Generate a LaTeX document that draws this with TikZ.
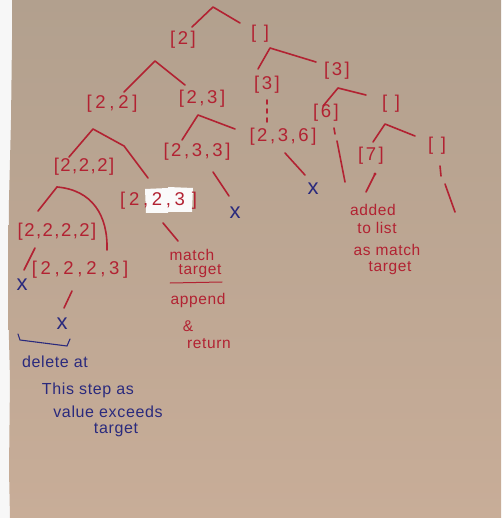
\documentclass[tikz,border=0pt]{standalone}
\usepackage{fontspec}
\newfontfamily\hand[LetterSpace=14]{Liberation Sans}
\newfontfamily\handwide[LetterSpace=20]{Liberation Sans}
\newfontfamily\handtight[LetterSpace=8]{Liberation Sans}
\newfontfamily\note[LetterSpace=4]{Liberation Sans}
\definecolor{towelTop}{RGB}{178,160,142}
\definecolor{towelBot}{RGB}{200,173,152}
\definecolor{inkred}{RGB}{178,34,50}
\definecolor{inkblue}{RGB}{42,42,125}
\begin{document}
\begin{tikzpicture}[x=1pt,y=-1pt,
  lbl/.style={text=inkred,font=\hand\fontsize{18.5}{19}\selectfont,inner sep=0pt},
  lblwide/.style={lbl,font=\handwide\fontsize{18.5}{19}\selectfont},
  lbltight/.style={lbl,font=\handtight\fontsize{18.5}{19}\selectfont},
  edge/.style={draw=inkred,line width=1.6pt,line cap=round,line join=round},
  cross/.style={text=inkblue,font=\note\fontsize{22}{22}\selectfont,inner sep=0pt},
  rednote/.style={text=inkred,font=\note\fontsize{15.5}{16}\selectfont,inner sep=0pt},
  bluenote/.style={text=inkblue,font=\note\fontsize{16}{16}\selectfont,inner sep=0pt},
  sticker/.style={fill=white!96!gray,draw=none}]
% paper towel and the white sheet underneath
\useasboundingbox (0,0) rectangle (501,518);
\fill[white!94!gray] (0,0) rectangle (501,518);
\shade[top color=towelTop,bottom color=towelBot]
  (12,0) -- (501,0) -- (501,518) -- (10,518) -- (9,470) -- (10,380) -- (8,300)
  -- (9,200) -- (11,120) -- (12,40) -- cycle;

% ---------- left branch: choosing 2 ----------
\coordinate (r0) at (213,7);
\coordinate (r0l) at (192,27);
\coordinate (r0r) at (240,23);
\draw[edge] (r0l) -- (r0) -- (r0r);

\node[lbl] (n2) at (183,40) {[2]};
\node[lbl] (e0) at (260,34) {[ ]};

\coordinate (a2) at (155,61);
\coordinate (a2l) at (124,92);
\coordinate (a2r) at (185,85);
\draw[edge] (a2l) -- (a2) -- (a2r);

\node[lblwide] (n22) at (112,104) {[2,2]};
\node[lbl] (n23) at (202,99) {[2,3]};

\coordinate (a22) at (93,129);
\coordinate (a22l) at (69,157);
\coordinate (a22m) at (124,146);
\coordinate (a22r) at (148,178);
\draw[edge] (a22l) -- (a22) -- (a22m) -- (a22r);

\coordinate (a23) at (198,115);
\coordinate (a23l) at (182,140);
\coordinate (a23r) at (235,129);
\draw[edge] (a23l) -- (a23) -- (a23r);

\node[lbltight] (n222) at (84,167) {[2,2,2]};
\node[lbl] (n233) at (197,152) {[2,3,3]};

% the found combination, with its two stickers
\fill[sticker] (145,189) -- (168,188) -- (168,213) -- (146,213) -- cycle;
\fill[sticker] (168,187) -- (193,188) -- (192,212) -- (168,212) -- cycle;
\node[lblwide,anchor=west] (n223) at (120,201) {[2,2,3\hspace{7pt}]};

% [2,3,3] goes over the target
\coordinate (b233) at (213,172);
\coordinate (b233e) at (229,196);
\draw[edge] (b233) -- (b233e);
\node[cross] (x233) at (235,213) {x};

% [2,2,2] splits into [2,2,2,2] and [2,2,2,3]
\coordinate (a222) at (57,187);
\coordinate (a222l) at (38,211);
\coordinate (a222r) at (107,250);
\draw[edge] (a222l) -- (a222);
\draw[edge] (a222) .. controls (92,190) and (108,215) .. (a222r);

\node[lbltight] (n2222) at (57,232) {[2,2,2,2]};
\node[lblwide] (n2223) at (80,270) {[2,2,2,3]};

\coordinate (b2222) at (35,248);
\coordinate (b2222e) at (24,270);
\draw[edge] (b2222) -- (b2222e);
\node[cross,anchor=center] (x2222) at (22,285) {x};

\coordinate (b2223) at (72,291);
\coordinate (b2223e) at (64,308);
\draw[edge] (b2223) -- (b2223e);
\node[cross] (x2223) at (62,324) {x};

% bracket and explanation for the dead end
\coordinate (br1) at (18,334);
\coordinate (br2) at (20,340);
\coordinate (br3) at (67,346);
\coordinate (br4) at (70,339);
\draw[draw=inkblue,line width=1.1pt,line cap=round] (br1) -- (br2) -- (br3) -- (br4);
\node[bluenote] (d1) at (55,362) {delete at};
\node[bluenote] (d2) at (88,390) {This step as};
\node[bluenote] (d3) at (108,412) {value exceeds};
\node[bluenote] (d4) at (116,430) {target};

% note under the match
\coordinate (m1) at (163,223);
\coordinate (m2) at (178,241);
\draw[edge] (m1) -- (m2);
\node[rednote] (t1) at (192,255) {match};
\node[rednote] (t2) at (200,271) {target};
\coordinate (u1) at (170,283);
\coordinate (u2) at (222,282);
\draw[draw=inkred,line width=1pt,line cap=round] (u1) -- (u2);
\node[rednote] (t3) at (198,300) {append};
\node[rednote] (t4) at (188,326) {\&};
\node[rednote] (t5) at (209,344) {return};

% ---------- right branch: skipping 2 ----------
\coordinate (ae) at (270,48);
\coordinate (ael) at (258,69);
\coordinate (aer) at (316,62);
\draw[edge] (ael) -- (ae) -- (aer);

\node[lbl] (n3) at (267,85) {[3]};
\node[lbl] (n3b) at (337,71) {[3]};

% [3] after [2,3] was already taken: dotted link to [2,3,6]
\coordinate (d3a) at (267,100);
\coordinate (d3b) at (267,126);
\draw[edge,dash pattern=on 4pt off 5pt] (d3a) -- (d3b);
\node[lbl] (n236) at (283,137) {[2,3,6]};

\coordinate (b236) at (285,153);
\coordinate (b236e) at (305,175);
\draw[edge] (b236) -- (b236e);
\node[cross] (x236) at (313,189) {x};

\coordinate (a3) at (338,88);
\coordinate (a3l) at (323,106);
\coordinate (a3r) at (366,95);
\draw[edge] (a3l) -- (a3) -- (a3r);

\node[lbl] (n6) at (326,113) {[6]};
\node[lbl] (e1) at (391,104) {[ ]};

\coordinate (b6a) at (334,128);
\coordinate (b6b) at (335,134);
\coordinate (b6c) at (337,141);
\coordinate (b6d) at (345,182);
\draw[edge] (b6a) -- (b6b);
\draw[edge] (b6c) -- (b6d);

\coordinate (a1) at (385,124);
\coordinate (a1l) at (373,142);
\coordinate (a1r) at (415,136);
\draw[edge] (a1l) -- (a1) -- (a1r);

\node[lbl] (n7) at (371,156) {[7]};
\node[lbl] (e2) at (437,146) {[ ]};

\coordinate (b7) at (375,174);
\coordinate (b7e) at (366,192);
\fill[inkred] (b7) circle (1.6pt);
\draw[edge] (b7) -- (b7e);
\node[rednote] (s1) at (373,210) {added};
\node[rednote] (s2) at (377,228) {to list};
\node[rednote] (s3) at (387,250) {as match};
\node[rednote] (s4) at (390,268) {target};

\coordinate (be1) at (440,166);
\coordinate (be2) at (441,176);
\coordinate (be3) at (445,184);
\coordinate (be4) at (455,212);
\draw[edge] (be1) -- (be2);
\draw[edge] (be3) -- (be4);
\end{tikzpicture}
\end{document}
